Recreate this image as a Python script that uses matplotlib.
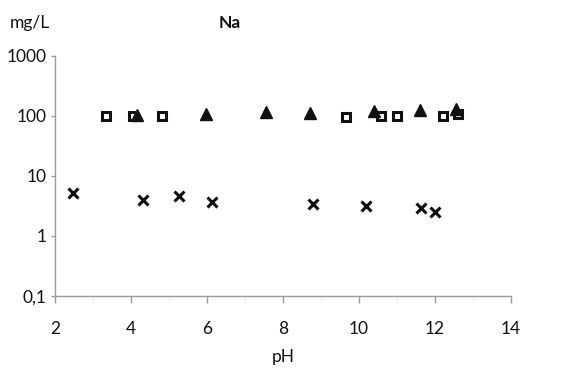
import matplotlib
matplotlib.use("Agg")
import matplotlib.pyplot as plt
from matplotlib.ticker import FixedLocator, FixedFormatter, NullLocator

plt.rcParams['font.family'] = ['Lato', 'DejaVu Sans']

# Data
sq_ph = [3.34, 4.04, 4.81, 9.66, 10.58, 11.01, 12.2, 12.59]
sq_val = [100, 100, 100, 94, 97, 100, 100, 108]
tri_ph = [4.17, 5.96, 7.54, 8.71, 10.38, 11.59, 12.55]
tri_val = [104, 107, 114, 111, 118, 124, 129]
x_ph = [2.47, 4.31, 5.26, 6.12, 8.8, 10.18, 11.62, 12.0]
x_val = [5.1, 4.0, 4.6, 3.6, 3.4, 3.16, 2.96, 2.54]

yticks = [0.1, 1, 10, 100, 1000]
ylabels = ["0,1", "1", "10", "100", "1000"]
xticks = [2, 4, 6, 8, 10, 12, 14]

FS = 12.5
fig = plt.figure(figsize=(5.73, 3.71), dpi=100)
ax = fig.add_axes([0.096, 0.2022, 0.796, 0.648])

ax.plot(sq_ph, sq_val, linestyle='none', marker='s', markersize=6.3,
        markerfacecolor='white', markeredgecolor='#111111', markeredgewidth=2.2)
ax.plot(tri_ph, tri_val, linestyle='none', marker='^', markersize=8.8,
        color='#111111')
ax.plot(x_ph, x_val, linestyle='none', marker='x', markersize=6.5,
        markeredgewidth=2.2, color='#111111')

ax.set_yscale('log')
ax.set_ylim(0.1, 1000)
ax.set_xlim(2, 14)
ax.yaxis.set_major_locator(FixedLocator(yticks))
ax.yaxis.set_major_formatter(FixedFormatter(ylabels))
ax.yaxis.set_minor_locator(NullLocator())
ax.set_xticks(xticks)
ax.set_xticklabels([str(t) for t in xticks])
ax.set_xticks([3, 5, 7, 9, 11, 13], minor=True)

for s in ['top', 'right']:
    ax.spines[s].set_visible(False)
for s in ['left', 'bottom']:
    ax.spines[s].set_color('#9a9a9a')
    ax.spines[s].set_linewidth(1.0)

ax.tick_params(axis='both', which='major', colors='#9a9a9a', width=1.0,
               labelcolor='#111111', labelsize=FS)
ax.tick_params(axis='x', which='major', length=5, pad=13)
ax.tick_params(axis='y', which='major', length=3, pad=3)
ax.tick_params(axis='x', which='minor', colors='#dddddd', length=3)

ax.set_xlabel('pH', fontsize=FS, color='#111111', labelpad=9)

fig.text(10 / 573, 1 - 23 / 371, 'mg/L', fontsize=FS, ha='left', va='center',
         color='#111111')
fig.text(230 / 573, 1 - 23 / 371, 'Na', fontsize=FS, fontweight='bold',
         ha='center', va='center', color='#111111')

fig.savefig('out.png', dpi=100)
